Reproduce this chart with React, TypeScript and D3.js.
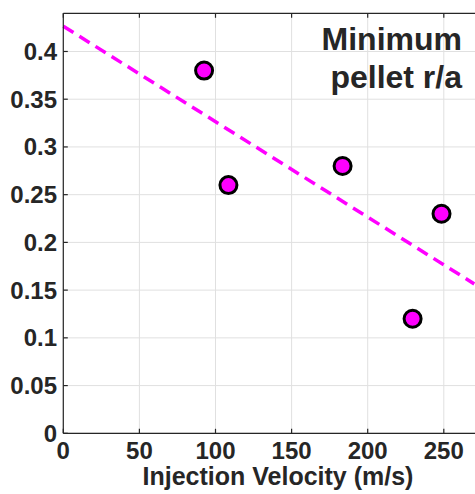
import React from "react";
import * as d3 from "d3";

// Pellet injection data: velocity (m/s) vs minimum pellet r/a
const velocities = [92.5, 108.5, 183.5, 229.5, 248.5];
const minRA = [0.38, 0.26, 0.28, 0.12, 0.23];

const xTicks = [0, 50, 100, 150, 200, 250];
const yTicks = [0, 0.05, 0.1, 0.15, 0.2, 0.25, 0.3, 0.35, 0.4];
const titleLines = ["Minimum", "pellet r/a"];
const xLabel = "Injection Velocity (m/s)";

const W = 475;
const H = 494;
const left = 63.3;
const top = 13.3;
const bottom = 433.3;
const xMax = 280;
const pxPerUnit = 1.522;

const FONT = "'Liberation Sans', Arial, Helvetica, sans-serif";
const INK = "#262626";
const GRID = "#e0e0e0";
const MAGENTA = "#ff00ff";

// least-squares fit of r/a against velocity
function linearFit(xs: number[], ys: number[]) {
  const mx = d3.mean(xs)!;
  const my = d3.mean(ys)!;
  let sxy = 0;
  let sxx = 0;
  xs.forEach((x, i) => {
    sxy += (x - mx) * (ys[i] - my);
    sxx += (x - mx) * (x - mx);
  });
  const slope = sxy / sxx;
  return { slope, intercept: my - slope * mx };
}

export default function App() {
  const x = d3.scaleLinear().domain([0, xMax]).range([left, left + xMax * pxPerUnit]);
  const y = d3.scaleLinear().domain([0, 0.44]).range([bottom, top]);
  const right = x(xMax);
  const fit = linearFit(velocities, minRA);
  const fitLine = d3
    .line<number>()
    .x((v) => x(v))
    .y((v) => y(fit.intercept + fit.slope * v));
  const tickLen = 4.5;

  return (
    <svg
      width={W}
      height={H}
      style={{ position: "fixed", left: 0, top: 0, background: "#fff" }}
      fontFamily={FONT}
      fontWeight="bold"
    >
      <rect x={0} y={0} width={W} height={H} fill="#fff" />
      {/* grid */}
      {xTicks.map((t) => (
        <line key={"gx" + t} x1={x(t)} x2={x(t)} y1={top} y2={bottom} stroke={GRID} strokeWidth={1} />
      ))}
      {yTicks.map((t) => (
        <line key={"gy" + t} x1={left} x2={right} y1={y(t)} y2={y(t)} stroke={GRID} strokeWidth={1} />
      ))}

      {/* regression line */}
      <path
        d={fitLine([0, 270]) ?? ""}
        fill="none"
        stroke={MAGENTA}
        strokeWidth={3.5}
        strokeDasharray="12 7"
      />

      {/* axes box */}
      <line x1={left} x2={right} y1={bottom} y2={bottom} stroke={INK} strokeWidth={1.2} />
      <line x1={left} x2={right} y1={top} y2={top} stroke={INK} strokeWidth={1.2} />
      <line x1={left} x2={left} y1={top} y2={bottom} stroke={INK} strokeWidth={1.2} />
      {xTicks.map((t) => (
        <g key={"tx" + t}>
          <line x1={x(t)} x2={x(t)} y1={bottom} y2={bottom - tickLen} stroke={INK} strokeWidth={1.2} />
          <line x1={x(t)} x2={x(t)} y1={top} y2={top + tickLen} stroke={INK} strokeWidth={1.2} />
          <text x={x(t)} y={459} textAnchor="middle" fontSize={24} fill={INK}>
            {t}
          </text>
        </g>
      ))}
      {yTicks.map((t) => (
        <g key={"ty" + t}>
          <line x1={left} x2={left + tickLen} y1={y(t)} y2={y(t)} stroke={INK} strokeWidth={1.2} />
          <text x={57} y={y(t) + 8.5} textAnchor="end" fontSize={24} fill={INK}>
            {String(t)}
          </text>
        </g>
      ))}

      {/* data points */}
      {velocities.map((v, i) => (
        <circle key={"p" + i} cx={x(v)} cy={y(minRA[i])} r={8.5} fill={MAGENTA} stroke="#000" strokeWidth={3} />
      ))}

      {/* title */}
      {titleLines.map((s, i) => (
        <text key={"t" + i} x={462} y={50 + i * 38} textAnchor="end" fontSize={32} fill={INK}>
          {s}
        </text>
      ))}

      <text x={278} y={485} textAnchor="middle" fontSize={25} fill={INK}>
        {xLabel}
      </text>
    </svg>
  );
}
